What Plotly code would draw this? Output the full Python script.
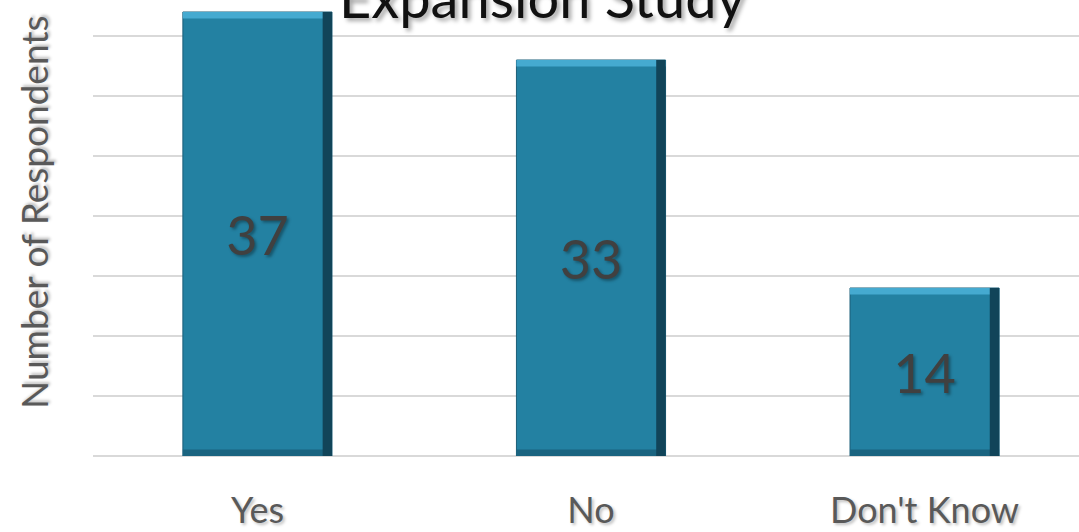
import plotly.graph_objects as go

categories = ["Yes", "No", "Don't Know"]
values = [37, 33, 14]
title_text = "Expansion Study"
y_title = "Number of Respondents"

BAR_W = 0.447
MAIN = "#2381A2"
TOP = "#45AAD0"
BOTTOM = "#1A6480"
RIGHT = "#114459"

fig = go.Figure()

# main bars
fig.add_trace(go.Bar(
    x=categories, y=values, width=BAR_W,
    marker=dict(color=MAIN, line=dict(color="#1B5E78", width=1)),
    text=[str(v) for v in values], textposition="inside",
    insidetextanchor="middle", textangle=0,
    textfont=dict(family="Lato", size=54, color="#404040",
                  shadow="2px 2px 3px rgba(0,0,0,0.35)"),
    hoverinfo="skip", showlegend=False,
))
# top bevel highlight
fig.add_trace(go.Bar(
    x=categories, y=[0.55] * len(values), base=[v - 0.55 for v in values],
    width=BAR_W, marker=dict(color=TOP, line=dict(width=0)),
    hoverinfo="skip", showlegend=False,
))
# bottom bevel shade
fig.add_trace(go.Bar(
    x=categories, y=[0.55] * len(values), base=[0] * len(values),
    width=BAR_W, marker=dict(color=BOTTOM, line=dict(width=0)),
    hoverinfo="skip", showlegend=False,
))
# right edge shade
fig.add_trace(go.Bar(
    x=categories, y=values, width=0.028, offset=BAR_W / 2 - 0.028,
    marker=dict(color=RIGHT, line=dict(width=0)),
    hoverinfo="skip", showlegend=False,
))

fig.update_layout(
    width=1079, height=532,
    margin=dict(l=93, r=0, t=0, b=76),
    paper_bgcolor="white", plot_bgcolor="white",
    barmode="overlay",
    font=dict(family="Lato"),
    xaxis=dict(
        type="category", range=[-0.493, 2.463],
        showgrid=False, showline=False, zeroline=False,
        ticks="", ticklabelstandoff=30,
        tickfont=dict(family="Lato", size=36, color="#595959",
                      shadow="2px 2px 3px rgba(0,0,0,0.25)"),
    ),
    yaxis=dict(
        range=[0, 38], dtick=5, showticklabels=False,
        showgrid=True, gridcolor="#D9D9D9", gridwidth=1.5,
        zeroline=True, zerolinecolor="#D9D9D9", zerolinewidth=1.5,
        showline=False, ticks="",
    ),
    annotations=[
        dict(text=title_text, xref="paper", yref="paper",
             x=0.455, y=0.93, xanchor="center", yanchor="bottom",
             showarrow=False,
             font=dict(family="Lato", size=56, color="#111111",
                       shadow="3px 3px 4px rgba(0,0,0,0.35)")),
        dict(text=y_title, xref="paper", yref="paper",
             x=-0.0609, y=0.535, xanchor="center", yanchor="middle",
             textangle=-90, showarrow=False,
             font=dict(family="Lato", size=37, color="#595959",
                       shadow="2px 2px 3px rgba(0,0,0,0.25)")),
    ],
)

fig.write_html("out.html",
               config={"displayModeBar": False},
               post_script="document.body.style.margin='0';")
